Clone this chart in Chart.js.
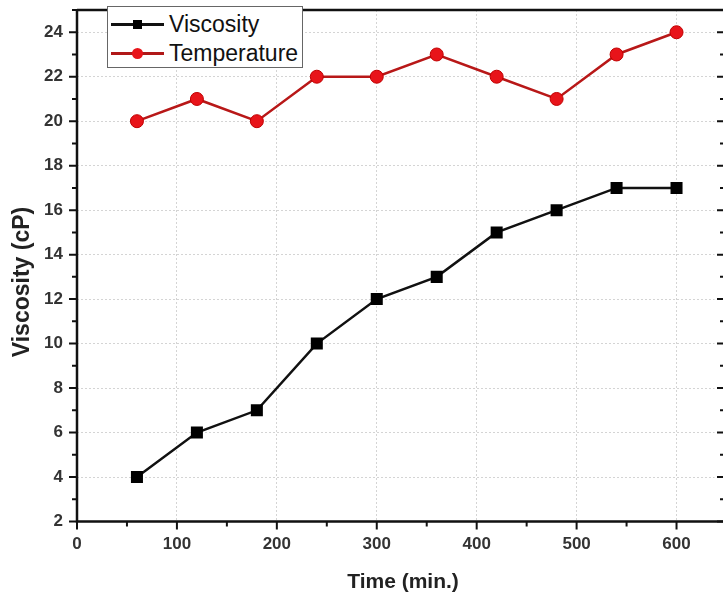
<!DOCTYPE html>
<html>
<head>
<meta charset="utf-8">
<script src="https://cdn.jsdelivr.net/npm/chart.js@4.4.1/dist/chart.umd.min.js"></script>
<style>
  html, body { margin: 0; padding: 0; background: #fff; }
  #wrap { position: relative; width: 723px; height: 596px; }
  #legend {
    position: absolute; left: 107px; top: 6px; width: 194px; height: 60px;
    border: 1px solid #666; background: #fff;
    font-family: "Liberation Sans", Arial, sans-serif; font-size: 23px; color: #111;
  }
  .row { position: absolute; left: 0; height: 28px; line-height: 28px; }
  .sample { position: absolute; left: 3px; top: 13px; width: 53px; height: 0; border-top: 3px solid; }
  .mark { position: absolute; }
  .label { position: absolute; left: 61px; top: 0; white-space: nowrap; }
</style>
</head>
<body>
<div id="wrap">
  <canvas id="chart" width="723" height="596"></canvas>
  <div id="legend">
    <div class="row" style="top:3px">
      <div class="sample" style="border-color:#111"></div>
      <div class="mark" style="top:10px;width:9px;height:9px;background:#000;left:25px"></div>
      <div class="label">Viscosity</div>
    </div>
    <div class="row" style="top:32px">
      <div class="sample" style="border-color:#b01818"></div>
      <div class="mark" style="top:9px;width:11px;height:11px;border-radius:50%;background:#e8141a;left:24px"></div>
      <div class="label">Temperature</div>
    </div>
  </div>
</div>
<script>
const times = [60, 120, 180, 240, 300, 360, 420, 480, 540, 600];
const viscosity = [4, 6, 7, 10, 12, 13, 15, 16, 17, 17];
const temperature = [20, 21, 20, 22, 22, 23, 22, 21, 23, 24];
const xTicks = [0, 100, 200, 300, 400, 500, 600];
const yTicks = [2, 4, 6, 8, 10, 12, 14, 16, 18, 20, 22, 24];

const tickFont = { family: '"Liberation Sans", Arial, sans-serif', size: 17, weight: 'bold' };

function noPad(s) {
    s.paddingTop = 0;
    s.paddingBottom = 0;
    s.paddingLeft = 0;
    s.paddingRight = 0;
}

// frame, minor/major tick marks and axis titles
const framePlugin = {
    id: 'frame',
    afterDraw(chart) {
        const { ctx, chartArea: a, scales: { x, y } } = chart;
        ctx.save();
        ctx.strokeStyle = '#111';
        ctx.lineWidth = 2.5;
        ctx.beginPath();
        ctx.moveTo(a.left, a.top);
        ctx.lineTo(723, a.top);
        ctx.moveTo(a.left, a.top);
        ctx.lineTo(a.left, a.bottom);
        ctx.lineTo(723, a.bottom);
        ctx.stroke();

        ctx.lineWidth = 2;
        ctx.beginPath();
        for (let v = 0; v <= 638; v += 50) {
            const px = x.getPixelForValue(v);
            const len = v % 100 === 0 ? 8 : 5;
            ctx.moveTo(px, a.bottom);
            ctx.lineTo(px, a.bottom + len);
        }
        for (let v = 2; v <= 25; v += 1) {
            const py = y.getPixelForValue(v);
            const len = v % 2 === 0 ? 8 : 5;
            ctx.moveTo(a.left, py);
            ctx.lineTo(a.left - len, py);
            ctx.moveTo(723, py);
            ctx.lineTo(723 - len + 2, py);
        }
        ctx.stroke();

        ctx.fillStyle = '#222';
        ctx.font = 'bold 21px "Liberation Sans", Arial, sans-serif';
        ctx.textAlign = 'center';
        ctx.textBaseline = 'alphabetic';
        ctx.fillText('Time (min.)', 403, 588);
        ctx.font = 'bold 23px "Liberation Sans", Arial, sans-serif';
        ctx.translate(29, 282);
        ctx.rotate(-Math.PI / 2);
        ctx.fillText('Viscosity (cP)', 0, 0);
        ctx.restore();
    }
};

new Chart(document.getElementById('chart'), {
    type: 'line',
    data: {
        datasets: [
            {
                label: 'Viscosity',
                data: times.map((t, i) => ({ x: t, y: viscosity[i] })),
                borderColor: '#111',
                borderWidth: 2.5,
                pointStyle: 'rect',
                pointRadius: 8.5,
                pointBackgroundColor: '#000',
                pointBorderColor: '#000',
                pointBorderWidth: 0,
                tension: 0
            },
            {
                label: 'Temperature',
                data: times.map((t, i) => ({ x: t, y: temperature[i] })),
                borderColor: '#b81818',
                borderWidth: 2.5,
                pointStyle: 'circle',
                pointRadius: 6.5,
                pointBackgroundColor: '#e8141a',
                pointBorderColor: '#c00000',
                pointBorderWidth: 1,
                tension: 0
            }
        ]
    },
    options: {
        responsive: false,
        animation: false,
        layout: { padding: { top: 10, right: -2, left: 0, bottom: 0 } },
        plugins: { legend: { display: false }, tooltip: { enabled: false } },
        scales: {
            x: {
                type: 'linear',
                min: 0,
                max: 638,
                afterFit: s => { s.height = 74.5; noPad(s); },
                afterBuildTicks: s => { s.ticks = xTicks.map(v => ({ value: v })); },
                ticks: { color: '#333', font: tickFont, padding: 13, maxRotation: 0 },
                grid: { color: '#d4d4d4', lineWidth: 1, drawTicks: false },
                border: { display: false, dash: [2, 2] }
            },
            y: {
                type: 'linear',
                min: 2,
                max: 25,
                afterFit: s => { s.width = 77; noPad(s); },
                afterBuildTicks: s => { s.ticks = yTicks.map(v => ({ value: v })); },
                ticks: { color: '#333', font: tickFont, padding: 14 },
                grid: { color: '#d4d4d4', lineWidth: 1, drawTicks: false },
                border: { display: false, dash: [2, 2] }
            }
        }
    },
    plugins: [framePlugin]
});
</script>
</body>
</html>
